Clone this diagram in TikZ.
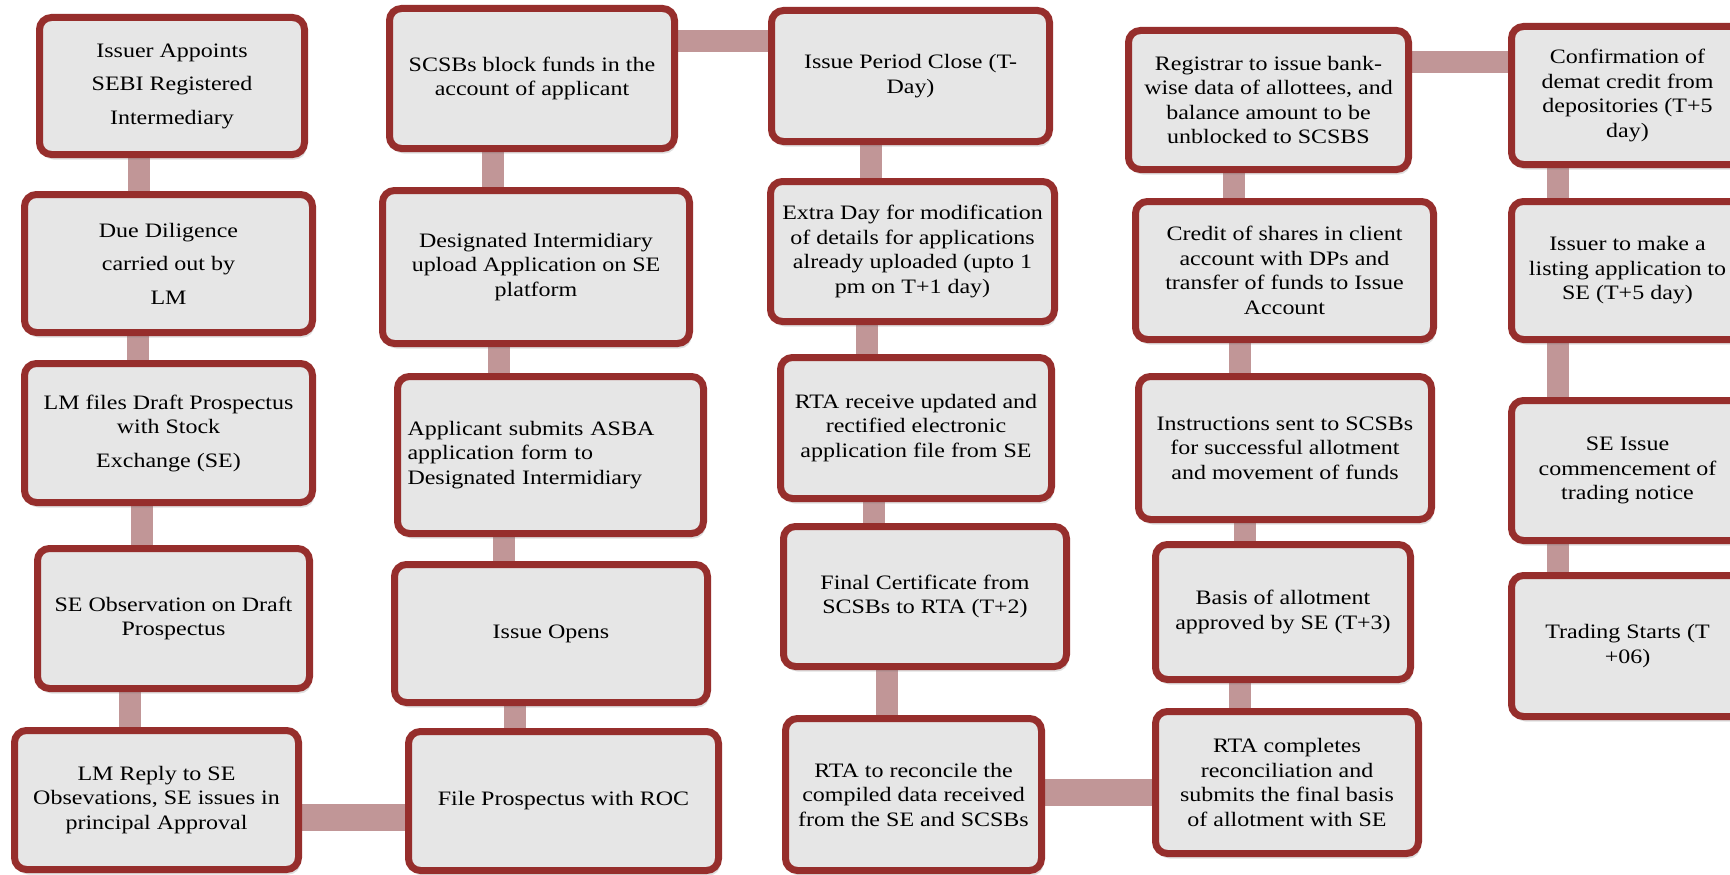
\documentclass[tikz,border=0pt]{standalone}
\usepackage{fontspec}
\setmainfont{Liberation Serif}[FakeStretch=1.17]
\usetikzlibrary{backgrounds,shadows}

\definecolor{boxred}{RGB}{150,46,44}
\definecolor{boxgray}{RGB}{230,230,230}
\definecolor{linkpink}{RGB}{193,150,151}

\tikzset{
  stepbox/.style={draw=boxred, line width=7pt, fill=boxgray, rounded corners=12pt,
    align=center, inner sep=3pt, font=\fontsize{20.5pt}{24.5pt}\selectfont,
    drop shadow={opacity=0.25, shadow xshift=2pt, shadow yshift=-5pt}},
  link/.style={linkpink, line width=22pt},
  wide link/.style={linkpink, line width=27pt}
}

\begin{document}
\begin{tikzpicture}[x=1pt, y=-1pt]
            \useasboundingbox (0,0) rectangle (1730,875);

            % Column 1 (bottom up)
            \node[stepbox, minimum width=265pt, minimum height=137pt] (appoint) at (172,86) {Issuer Appoints\\[9pt]SEBI Registered\\[9pt]Intermediary};
            \node[stepbox, minimum width=288pt, minimum height=138pt] (diligence) at (168.5,263.5) {Due Diligence\\[9pt]carried out by\\[9pt]LM};
            \node[stepbox, minimum width=288pt, minimum height=139pt] (draft) at (168.5,433) {LM files Draft Prospectus\\with Stock\\[9pt]Exchange (SE)};
            \node[stepbox, minimum width=272pt, minimum height=140pt] (observe) at (173.5,618.5) {SE Observation on Draft\\Prospectus};
            \node[stepbox, minimum width=284pt, minimum height=139pt] (reply) at (156.5,800) {LM Reply to SE\\Obsevations, SE issues in\\principal Approval};

            % Column 2
            \node[stepbox, minimum width=310pt, minimum height=139pt] (roc) at (563.5,801) {File Prospectus with ROC};
            \node[stepbox, minimum width=313pt, minimum height=138pt] (opens) at (551,633.5) {Issue Opens};
            \node[stepbox, align=left, inner xsep=10pt, text width=286pt, minimum height=157pt] (submit) at (550.5,455) {Applicant submits ASBA\\application form to\\Designated Intermidiary};
            \node[stepbox, minimum width=307pt, minimum height=153pt] (upload) at (536,267) {Designated Intermidiary\\upload Application on SE\\platform};
            \node[stepbox, minimum width=285pt, minimum height=140pt] (block) at (532,78.5) {SCSBs block funds in the\\account of applicant};

            % Column 3
            \node[stepbox, minimum width=278pt, minimum height=131pt] (close) at (910.5,76) {Issue Period Close (T-\\Day)};
            \node[stepbox, minimum width=284pt, minimum height=140pt] (extra) at (912.5,251.5) {Extra Day for modification\\of details for applications\\already uploaded (upto 1\\pm on T+1 day)};
            \node[stepbox, minimum width=271pt, minimum height=141pt] (receive) at (916,428) {RTA receive updated and\\rectified electronic\\application file from SE};
            \node[stepbox, minimum width=283pt, minimum height=140pt] (certif) at (925,596.5) {Final Certificate from\\SCSBs to RTA (T+2)};
            \node[stepbox, minimum width=256pt, minimum height=152pt] (reconcile) at (913.5,794.5) {RTA to reconcile the\\compiled data received\\from the SE and SCSBs};

            % Column 4
            \node[stepbox, minimum width=263pt, minimum height=142pt] (complete) at (1287,782.5) {RTA completes\\reconciliation and\\submits the final basis\\of allotment with SE};
            \node[stepbox, minimum width=255pt, minimum height=135pt] (basis) at (1283,612) {Basis of allotment\\approved by SE (T+3)};
            \node[stepbox, minimum width=293pt, minimum height=143pt] (instruct) at (1285,448) {Instructions sent to SCSBs\\for successful allotment\\and movement of funds};
            \node[stepbox, minimum width=298pt, minimum height=138pt] (credit) at (1284.5,270.5) {Credit of shares in client\\account with DPs and\\transfer of funds to Issue\\Account};
            \node[stepbox, minimum width=280pt, minimum height=139pt] (registrar) at (1268.5,100) {Registrar to issue bank-\\wise data of allottees, and\\balance amount to be\\unblocked to SCSBS};

            % Column 5
            \node[stepbox, minimum width=232pt, minimum height=138pt] (confirm) at (1627.5,95.5) {Confirmation of\\demat credit from\\depositories (T+5\\day)};
            \node[stepbox, minimum width=232pt, minimum height=138pt] (listing) at (1627.5,270.5) {Issuer to make a\\listing application to\\SE (T+5 day)};
            \node[stepbox, minimum width=232pt, minimum height=140pt] (notice) at (1627.5,470.5) {SE Issue\\commencement of\\trading notice};
            \node[stepbox, minimum width=232pt, minimum height=141pt] (trading) at (1627.5,646) {Trading Starts (T\\+06)};

            % Connectors behind the boxes
            \begin{scope}[on background layer]
                \fill[white] (0,0) rectangle (1730,875);
                \draw[link] ([xshift=-33pt]appoint.center) -- ([xshift=-29.5pt]diligence.center);
                \draw[link] ([xshift=-30.5pt]diligence.center) -- ([xshift=-30.5pt]draft.center);
                \draw[link] ([xshift=-26.5pt]draft.center) -- ([xshift=-31.5pt]observe.center);
                \draw[link] ([xshift=-43.5pt]observe.center) -- ([xshift=-26.5pt]reply.center);
                \draw[wide link] ([yshift=-17pt]reply.center) -- ([yshift=-16pt]roc.center);
                \draw[link] ([xshift=-48.5pt]roc.center) -- ([xshift=-36pt]opens.center);
                \draw[link] ([xshift=-47pt]opens.center) -- ([xshift=-46.5pt]submit.center);
                \draw[link] ([xshift=-51.5pt]submit.center) -- ([xshift=-37pt]upload.center);
                \draw[link] ([xshift=-43pt]upload.center) -- ([xshift=-39pt]block.center);
                \draw[link] ([yshift=37.5pt]block.center) -- ([yshift=35pt]close.center);
                \draw[link] ([xshift=-39.5pt]close.center) -- ([xshift=-41.5pt]extra.center);
                \draw[link] ([xshift=-45.5pt]extra.center) -- ([xshift=-49pt]receive.center);
                \draw[link] ([xshift=-42pt]receive.center) -- ([xshift=-51pt]certif.center);
                \draw[link] ([xshift=-38pt]certif.center) -- ([xshift=-26.5pt]reconcile.center);
                \draw[wide link] ([yshift=2.5pt]reconcile.center) -- ([yshift=-9.5pt]complete.center);
                \draw[link] ([xshift=-47pt]complete.center) -- ([xshift=-43pt]basis.center);
                \draw[link] ([xshift=-38pt]basis.center) -- ([xshift=-40pt]instruct.center);
                \draw[link] ([xshift=-45pt]instruct.center) -- ([xshift=-44.5pt]credit.center);
                \draw[link] ([xshift=-51pt]credit.center) -- ([xshift=-35pt]registrar.center);
                \draw[link] ([yshift=38pt]registrar.center) -- ([yshift=33.5pt]confirm.center);
                \foreach \a/\b in {confirm/listing, listing/notice, notice/trading}
                    \draw[link] ([xshift=-69.5pt]\a.center) -- ([xshift=-69.5pt]\b.center);
            \end{scope}
\end{tikzpicture}
\end{document}
